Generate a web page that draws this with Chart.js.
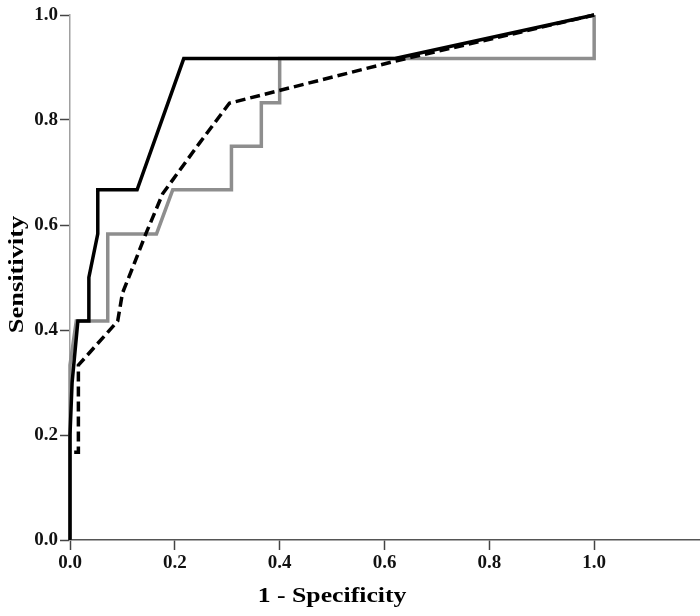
<!DOCTYPE html>
<html>
<head>
<meta charset="utf-8">
<script src="https://cdn.jsdelivr.net/npm/chart.js@4/dist/chart.umd.min.js"></script>
<style>
html,body{margin:0;padding:0;background:#ffffff;}
#wrap{width:700px;height:616px;}
</style>
</head>
<body>
<div id="wrap"><canvas id="c" width="700" height="616"></canvas></div>
<script>
// ---- data ----
const xTitle = '1 - Specificity';
const yTitle = 'Sensitivity';
const tickMax = 1.0;

// solid black ROC curve
const solidX = [0, 0, 0.004, 0.015, 0.036, 0.036, 0.053, 0.053, 0.128, 0.217, 0.62, 1.0];
const solidY = [0, 0.2, 0.3, 0.417, 0.417, 0.5, 0.583, 0.667, 0.667, 0.917, 0.917, 1.0];

// grey stepped ROC curve
const greyX = [0, 0, 0.012, 0.072, 0.072, 0.165, 0.196, 0.308, 0.308, 0.365, 0.365, 0.4, 0.4, 1.0, 1.0];
const greyY = [0, 0.333, 0.417, 0.417, 0.583, 0.583, 0.667, 0.667, 0.75, 0.75, 0.833, 0.833, 0.917, 0.917, 1.0];

// dashed black ROC curve
const dashX = [0.008, 0.016, 0.016, 0.091, 0.1, 0.12, 0.145, 0.177, 0.196, 0.247, 0.304, 0.62, 1.0];
const dashY = [0.167, 0.167, 0.333, 0.417, 0.47, 0.52, 0.584, 0.66, 0.686, 0.756, 0.832, 0.912, 1.0];

const pts = (xs, ys) => xs.map((x, i) => ({x: x, y: ys[i]}));

const titlePlugin = {
  id: 'axisTitles',
  afterDraw(chart) {
    const {ctx, scales} = chart;
    const xs = scales.x, ys = scales.y;
    ctx.save();
    ctx.fillStyle = '#000';
    ctx.font = 'bold 22px "Liberation Serif", "Times New Roman", serif';
    ctx.textAlign = 'center';
    ctx.textBaseline = 'alphabetic';
    ctx.save();
    ctx.translate(xs.getPixelForValue(0.5), 602);
    ctx.scale(1.17, 1);
    ctx.fillText(xTitle, 0, 0);
    ctx.restore();
    ctx.save();
    ctx.translate(23, ys.getPixelForValue(0.5) - 3);
    ctx.rotate(-Math.PI / 2);
    ctx.scale(1.2, 1);
    ctx.fillText(yTitle, 0, 0);
    ctx.restore();
    ctx.restore();
  }
};

const tickFont = {family: '"Liberation Serif", "Times New Roman", serif', size: 19, weight: 'bold'};

new Chart(document.getElementById('c'), {
  type: 'line',
  data: {
    datasets: [
      {
        label: 'dashed',
        data: pts(dashX, dashY),
        borderColor: '#000000',
        borderWidth: 3.5,
        borderDash: [10, 5],
        pointRadius: 0,
        tension: 0,
        fill: false,
        order: 0
      },
      {
        label: 'solid',
        data: pts(solidX, solidY),
        borderColor: '#000000',
        borderWidth: 3.5,
        pointRadius: 0,
        tension: 0,
        fill: false,
        order: 1
      },
      {
        label: 'grey',
        data: pts(greyX, greyY),
        borderColor: '#8e8e8e',
        borderWidth: 3.5,
        pointRadius: 0,
        tension: 0,
        fill: false,
        order: 2
      }
    ]
  },
  options: {
    responsive: false,
    animation: false,
    clip: false,
    layout: {padding: {top: 15, right: 1, left: 0, bottom: 0}},
    plugins: {legend: {display: false}, tooltip: {enabled: false}, title: {display: false}},
    scales: {
      x: {
        type: 'linear',
        min: 0,
        max: 1.2,
        afterBuildTicks(scale) {
          scale.ticks = scale.ticks.filter(t => t.value <= tickMax + 1e-9);
        },
        afterFit(scale) { scale.height = 76; },
        ticks: {
          stepSize: 0.2,
          color: '#111',
          font: tickFont,
          padding: 2,
          maxRotation: 0,
          callback: v => Number(v).toFixed(1)
        },
        grid: {drawOnChartArea: false, drawTicks: true, tickLength: 10, tickColor: '#444', tickWidth: 1.5},
        border: {display: true, color: '#555', width: 1.5}
      },
      y: {
        type: 'linear',
        min: 0,
        max: 1.0,
        afterFit(scale) { scale.width = 70; },
        ticks: {
          stepSize: 0.2,
          color: '#111',
          font: tickFont,
          padding: 2,
          callback: v => Number(v).toFixed(1)
        },
        grid: {drawOnChartArea: false, drawTicks: true, tickLength: 10, tickColor: '#444', tickWidth: 1.5},
        border: {display: true, color: '#a0a0a0', width: 1.5}
      }
    }
  },
  plugins: [titlePlugin]
});
</script>
</body>
</html>
